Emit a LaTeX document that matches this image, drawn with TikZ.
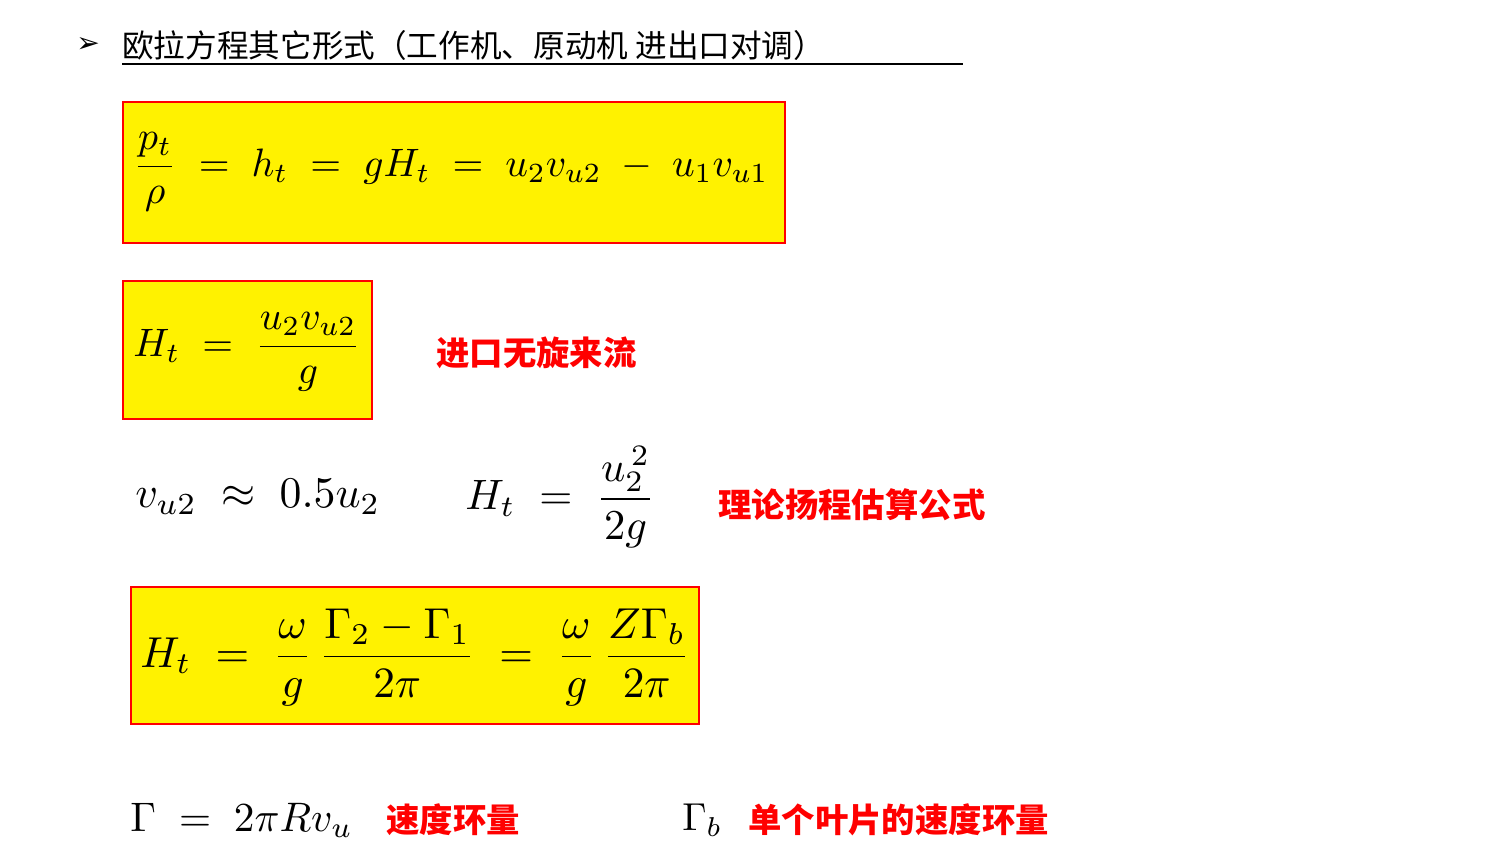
\documentclass[tikz,border=0pt]{standalone}
\usepackage{fontspec}
\usepackage{amsmath}
\newfontfamily\cjk{Noto Sans CJK SC}
\newfontfamily\sym{DejaVu Sans}
\begin{document}
\begin{tikzpicture}[x=0.02cm,y=-0.02cm,
  ybox/.style={draw=red,line width=1.2pt,fill=yellow},
  lbl/.style={text=red,font=\cjk\bfseries\fontsize{19}{22}\selectfont,anchor=west,inner sep=0},
  eq/.style={anchor=west,inner sep=0}]
\useasboundingbox (0,0) rectangle (1500,864);
\node[anchor=west,inner sep=0,font=\sym\fontsize{16}{18}\selectfont] (ar) at (76,45) {➢};
\node[anchor=west,inner sep=0,font=\cjk\fontsize{18}{20}\selectfont] (title) at (122,45) {欧拉方程其它形式（工作机、原动机 进出口对调）};
\draw[line width=0.8pt] (122,64) -- (963,64);
\draw[ybox] (123,102) rectangle (785,243);
\draw[ybox] (123,281) rectangle (372,419);
\draw[ybox] (131,587) rectangle (699,724);
\node[eq] (e1) at (133,172) {\resizebox{12.7cm}{!}{$\dfrac{p_t}{\rho} \;=\; h_t \;=\; gH_t \;=\; u_2v_{u2} \;-\; u_1v_{u1}$}};
\node[eq] (e2) at (133,352) {\resizebox{4.55cm}{!}{$H_t \;=\; \dfrac{u_2v_{u2}}{g}$}};
\node[eq] (e3) at (135,497) {\resizebox{4.9cm}{!}{$v_{u2} \;\approx\; 0.5u_2$}};
\node[eq] (e4) at (465,497) {\resizebox{3.8cm}{!}{$H_t \;=\; \dfrac{u_2^{\,2}}{2g}$}};
\node[eq] (e5) at (140,657) {\resizebox{11cm}{!}{$H_t \;=\; \dfrac{\omega}{g}\,\dfrac{\Gamma_2-\Gamma_1}{2\pi} \;=\; \dfrac{\omega}{g}\,\dfrac{Z\Gamma_b}{2\pi}$}};
\node[eq] (e6) at (130,820) {\resizebox{4.45cm}{!}{$\Gamma \;=\; 2\pi Rv_u$}};
\node[eq] (e7) at (682,820) {\resizebox{0.8cm}{!}{$\Gamma_b$}};
\node[lbl] (l1) at (436,353) {进口无旋来流};
\node[lbl] (l2) at (718,505) {理论扬程估算公式};
\node[lbl] (l3) at (386,820) {速度环量};
\node[lbl] (l4) at (748,820) {单个叶片的速度环量};
\end{tikzpicture}
\end{document}
